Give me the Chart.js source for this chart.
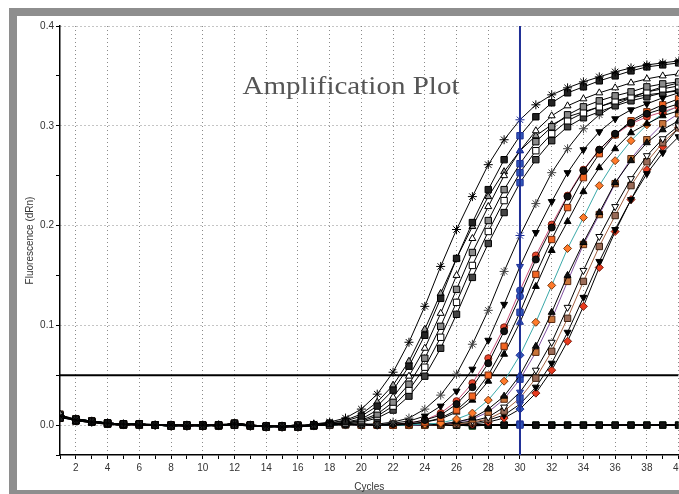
<!DOCTYPE html>
<html>
<head>
<meta charset="utf-8">
<style>
html, body { margin: 0; padding: 0; background: #fff; overflow: hidden; width: 679px; height: 494px; }
#frame { position: absolute; left: 9px; top: 8px; width: 1000px; height: 474px; border: 8px solid #8e8e8e; background: #fff; }
#wrap { position: absolute; left: 0; top: 0; width: 700px; height: 494px; }
</style>
<script src="https://cdn.jsdelivr.net/npm/chart.js@4.4.0/dist/chart.umd.min.js"></script>
</head>
<body>
<div id="frame"></div>
<div id="wrap"><canvas id="amp"></canvas></div>
<script>
// cycles and fluorescence (dRn)
var cycles = [1,2,3,4,5,6,7,8,9,10,11,12,13,14,15,16,17,18,19,20,21,22,23,24,25,26,27,28,29,30,31,32,33,34,35,36,37,38,39,40];

var wellA1 = [0.009,0.005,0.003,0.002,0.001,0.000,0.000,0.000,-0.001,0.000, 0.000,0.001,-0.001,-0.001,-0.002,-0.001,0.001,0.003,0.007,0.016, 0.031,0.053,0.083,0.119,0.159,0.196,0.229,0.261,0.286,0.306, 0.321,0.331,0.338,0.344,0.349,0.354,0.358,0.361,0.363,0.365];
var wellA2 = [0.007,0.006,0.004,0.002,0.001,0.001,0.000,-0.001,0.000,-0.001, 0.000,0.000,0.000,-0.002,-0.001,-0.002,0.000,0.002,0.004,0.009, 0.019,0.035,0.059,0.090,0.127,0.167,0.203,0.236,0.266,0.290, 0.309,0.323,0.333,0.339,0.345,0.350,0.355,0.359,0.361,0.363];
var wellA3 = [0.011,0.004,0.003,0.001,0.000,0.001,0.000,0.000,0.000,0.000, -0.001,0.002,0.000,-0.001,-0.001,0.000,-0.001,0.001,0.003,0.006, 0.015,0.028,0.049,0.077,0.112,0.150,0.187,0.219,0.250,0.275, 0.295,0.310,0.320,0.327,0.333,0.338,0.343,0.347,0.350,0.352];
var wellA4 = [0.008,0.005,0.003,0.002,0.001,0.000,0.000,0.000,-0.001,0.000, 0.000,0.001,-0.001,-0.001,-0.002,-0.001,0.000,0.001,0.002,0.005, 0.011,0.023,0.041,0.067,0.099,0.136,0.173,0.205,0.236,0.262, 0.284,0.299,0.311,0.319,0.325,0.330,0.334,0.339,0.342,0.344];
var wellA5 = [0.007,0.006,0.004,0.002,0.001,0.001,0.000,-0.001,0.000,-0.001, 0.000,0.000,0.000,-0.002,-0.001,-0.002,0.000,0.000,0.002,0.004, 0.009,0.019,0.035,0.058,0.088,0.123,0.160,0.194,0.225,0.253, 0.275,0.292,0.305,0.313,0.319,0.325,0.329,0.334,0.337,0.340];
var wellA6 = [0.010,0.004,0.003,0.001,0.000,0.001,0.000,0.000,0.000,0.000, -0.001,0.002,0.000,-0.001,-0.001,0.000,-0.001,0.001,0.001,0.003, 0.007,0.015,0.029,0.049,0.077,0.111,0.148,0.182,0.213,0.243, 0.266,0.285,0.299,0.308,0.314,0.320,0.325,0.329,0.333,0.336];
var wellA7 = [0.009,0.005,0.003,0.002,0.001,0.000,0.000,0.000,-0.001,0.000, 0.000,0.001,-0.001,-0.001,-0.002,-0.001,0.001,0.002,0.005,0.011, 0.023,0.040,0.064,0.096,0.132,0.167,0.199,0.229,0.254,0.275, 0.290,0.301,0.309,0.314,0.319,0.324,0.328,0.331,0.333,0.335];

var wellB1 = [0.008,0.006,0.004,0.002,0.001,0.001,0.000,-0.001,0.000,-0.001, 0.000,0.000,0.000,-0.002,-0.001,-0.002,0.000,0.000,0.001,0.000, 0.001,0.003,0.007,0.016,0.030,0.051,0.081,0.115,0.154,0.190, 0.222,0.253,0.277,0.297,0.311,0.321,0.328,0.334,0.339,0.343];
var wellB2 = [0.010,0.004,0.003,0.001,0.000,0.001,0.000,0.000,0.000,0.000, -0.001,0.002,0.000,-0.001,-0.001,0.000,-0.001,0.001,0.000,0.001, 0.000,0.002,0.004,0.009,0.019,0.034,0.056,0.085,0.121,0.159, 0.193,0.224,0.253,0.276,0.294,0.307,0.316,0.322,0.328,0.333];
var wellB3 = [0.009,0.005,0.003,0.002,0.001,0.000,0.000,0.000,-0.001,0.000, 0.000,0.001,-0.001,-0.001,-0.002,-0.001,0.000,0.001,0.001,0.000, 0.000,0.001,0.002,0.005,0.010,0.021,0.038,0.062,0.094,0.129, 0.166,0.198,0.229,0.255,0.276,0.292,0.303,0.312,0.317,0.322];
var wellB4 = [0.007,0.006,0.004,0.002,0.001,0.001,0.000,-0.001,0.000,-0.001, 0.000,0.000,0.000,-0.002,-0.001,-0.002,0.000,0.000,0.001,0.000, 0.000,0.000,0.001,0.003,0.007,0.015,0.029,0.050,0.079,0.113, 0.151,0.186,0.218,0.248,0.272,0.291,0.305,0.314,0.321,0.327];
var wellB5 = [0.011,0.004,0.003,0.001,0.000,0.001,0.000,0.000,0.000,0.000, -0.001,0.002,0.000,-0.001,-0.001,0.000,-0.001,0.001,0.000,0.001, 0.000,0.000,0.001,0.003,0.006,0.013,0.025,0.044,0.071,0.103, 0.139,0.175,0.204,0.234,0.258,0.277,0.293,0.302,0.310,0.315];
var wellB6 = [0.008,0.005,0.003,0.002,0.001,0.000,0.000,0.000,-0.001,0.000, 0.000,0.001,-0.001,-0.001,-0.002,-0.001,0.000,0.001,0.001,0.000, 0.000,0.001,0.002,0.005,0.012,0.024,0.042,0.067,0.098,0.135, 0.170,0.201,0.230,0.256,0.276,0.291,0.302,0.309,0.314,0.319];

var wellC0 = [0.007,0.006,0.004,0.002,0.001,0.001,0.000,-0.001,0.000,-0.001, 0.000,0.000,0.000,-0.002,-0.001,-0.002,0.000,0.000,0.001,0.000, 0.000,0.000,0.000,0.001,0.002,0.006,0.012,0.025,0.044,0.070, 0.103,0.140,0.177,0.208,0.240,0.265,0.285,0.301,0.312,0.320];
var wellC1 = [0.010,0.004,0.003,0.001,0.000,0.001,0.000,0.000,0.000,0.000, -0.001,0.002,0.000,-0.001,-0.001,0.000,-0.001,0.001,0.000,0.001, 0.000,0.000,0.001,0.000,0.001,0.003,0.007,0.016,0.029,0.050, 0.079,0.113,0.150,0.183,0.213,0.243,0.265,0.283,0.296,0.305];
var wellC2 = [0.009,0.005,0.003,0.002,0.001,0.000,0.000,0.000,-0.001,0.000, 0.000,0.001,-0.001,-0.001,-0.002,-0.001,0.000,0.001,0.001,0.000, 0.000,0.001,0.000,0.000,0.001,0.003,0.006,0.013,0.026,0.046, 0.073,0.106,0.144,0.181,0.211,0.242,0.267,0.286,0.302,0.312];
var wellC3 = [0.008,0.006,0.004,0.002,0.001,0.001,0.000,-0.001,0.000,-0.001, 0.000,0.000,0.000,-0.002,-0.001,-0.002,0.000,0.000,0.001,0.000, 0.000,0.000,0.001,0.000,0.000,0.002,0.004,0.008,0.018,0.033, 0.055,0.083,0.118,0.155,0.189,0.219,0.247,0.270,0.287,0.300];
var wellC4 = [0.011,0.004,0.003,0.001,0.000,0.001,0.000,0.000,0.000,0.000, -0.001,0.002,0.000,-0.001,-0.001,0.000,-0.001,0.001,0.000,0.001, 0.000,0.000,0.001,0.000,0.000,0.001,0.003,0.006,0.014,0.027, 0.047,0.074,0.107,0.144,0.179,0.210,0.240,0.264,0.283,0.298];
var wellC5 = [0.009,0.005,0.003,0.002,0.001,0.000,0.000,0.000,-0.001,0.000, 0.000,0.001,-0.001,-0.001,-0.002,-0.001,0.000,0.001,0.001,0.000, 0.000,0.001,0.000,0.000,0.001,0.000,0.002,0.005,0.010,0.021, 0.038,0.062,0.093,0.128,0.164,0.196,0.226,0.252,0.273,0.289];
var wellC6 = [0.007,0.006,0.004,0.002,0.001,0.001,0.000,-0.001,0.000,-0.001, 0.000,0.000,0.000,-0.002,-0.001,-0.002,0.000,0.000,0.001,0.000, 0.000,0.000,0.001,0.000,0.000,0.001,0.001,0.003,0.007,0.016, 0.032,0.055,0.084,0.119,0.158,0.194,0.226,0.256,0.279,0.298];

// no-template controls, stay flat
var ntc1 = [0.008,0.005,0.003,0.001,0.000,0.001,0.000,0.000,-0.001,0.000, 0.000,0.001,-0.001,-0.001,-0.002,-0.001,0.000,0.000,0.001,0.000, 0.000,0.000,0.000,0.001,0.000,0.000,0.000,0.000,0.000,0.000, 0.000,0.000,0.000,0.000,0.000,0.000,0.000,0.000,0.000,0.000];
var ntc2 = [0.010,0.006,0.004,0.002,0.001,0.001,0.000,-0.001,0.000,-0.001, 0.000,0.000,0.000,-0.002,-0.001,-0.002,0.000,0.001,0.001,0.001, 0.001,0.000,0.000,0.000,0.001,0.000,-0.001,0.000,0.000,0.001, 0.000,0.000,0.000,0.000,0.000,0.000,0.000,0.000,0.000,0.000];

var threshold = 0.05;
var cursorCycle = 30;
var yTicksMin = -0.03, yTicksMax = 0.4;
var xMin = 1, xMax = 40;

var wells = [wellA1, wellA2, wellA3, wellA4, wellA5, wellA6, wellA7,
             wellB1, wellB2, wellB3, wellB4, wellB5, wellB6,
             wellC0, wellC1, wellC2, wellC3, wellC4, wellC5, wellC6,
             ntc1, ntc2];

// marker look for each well
var looks = [
    {shape: 'star', fill: '#000', edge: '#000', line: '#000', r: 4.5},
    {shape: 'rect', fill: '#222', edge: '#000', line: '#000', r: 4.5},
    {shape: 'triangle', fill: '#fff', edge: '#000', line: '#000', r: 4},
    {shape: 'rect', fill: '#8a8a8a', edge: '#000', line: '#000', r: 4.5},
    {shape: 'rect', fill: '#fff', edge: '#000', line: '#000', r: 4.5},
    {shape: 'rect', fill: '#444', edge: '#000', line: '#000', r: 4.5},
    {shape: 'triangle', fill: '#9a9a9a', edge: '#000', line: '#000', r: 4},
    {shape: 'star', fill: '#555', edge: '#444', line: '#000', r: 4.5},
    {shape: 'triangle', fill: '#000', edge: '#000', line: '#000', r: 4, rot: 180},
    {shape: 'circle', fill: '#111', edge: '#000', line: '#000', r: 3.5},
    {shape: 'rect', fill: '#f26522', edge: '#6a2a10', line: '#000', r: 4.5},
    {shape: 'triangle', fill: '#000', edge: '#000', line: '#000', r: 4},
    {shape: 'circle', fill: '#e8452c', edge: '#7a2010', line: '#c8507a', r: 3.5},
    {shape: 'rectRot', fill: '#ff7a2a', edge: '#7a3a10', line: '#3aa8a8', r: 4},
    {shape: 'triangle', fill: '#111', edge: '#000', line: '#000', r: 4},
    {shape: 'rect', fill: '#c8743a', edge: '#5a2a10', line: '#8050a0', r: 4.5},
    {shape: 'triangle', fill: '#fff', edge: '#000', line: '#000', r: 4, rot: 180},
    {shape: 'rect', fill: '#9a6b58', edge: '#3a2010', line: '#a06040', r: 4.5},
    {shape: 'triangle', fill: '#000', edge: '#000', line: '#000', r: 4, rot: 180},
    {shape: 'rectRot', fill: '#e83a1e', edge: '#7a1a0a', line: '#000', r: 4},
    {shape: 'rect', fill: '#111', edge: '#000', line: '#000', r: 4.5, width: 2},
    {shape: 'rect', fill: '#2f8a3a', edge: '#0a3a10', line: '#000', r: 4.5}
];

var datasets = [];

datasets.push({
    data: [{x: cursorCycle, y: yTicksMin}, {x: cursorCycle, y: yTicksMax}],
    borderColor: '#1f2f96', borderWidth: 2, pointRadius: 0, order: -1
});
datasets.push({
    data: [{x: xMin, y: threshold}, {x: xMax, y: threshold}],
    borderColor: '#000', borderWidth: 2, pointRadius: 0, order: 1
});

wells.forEach(function (vals, i) {
    var look = looks[i];
    datasets.push({
        data: cycles.map(function (c, j) { return {x: c, y: vals[j]}; }),
        borderColor: look.line,
        borderWidth: look.width || 1,
        pointStyle: look.shape,
        pointRotation: look.rot || 0,
        pointRadius: look.r,
        pointBorderWidth: 1,
        pointBackgroundColor: function (ctx) {
            return (ctx.raw && ctx.raw.x === cursorCycle) ? '#3058b8' : look.fill;
        },
        pointBorderColor: function (ctx) {
            return (ctx.raw && ctx.raw.x === cursorCycle) ? '#1f2f96' : look.edge;
        },
        tension: 0,
        order: 0
    });
});

var titlePlugin = {
    id: 'plotTitle',
    afterDraw: function (chart) {
        var ctx = chart.ctx, area = chart.chartArea;
        var text = 'Amplification Plot';
        ctx.save();
        ctx.font = '26px "Liberation Serif", "Times New Roman", serif';
        ctx.fillStyle = '#555';
        ctx.textAlign = 'center';
        ctx.textBaseline = 'alphabetic';
        var w = ctx.measureText(text).width;
        ctx.translate(area.left + 291, area.top + 68);
        ctx.scale(217 / w, 1);
        ctx.fillText(text, 0, 0);
        ctx.restore();
    }
};

Chart.defaults.font.family = '"Liberation Sans", Arial, sans-serif';
Chart.defaults.color = '#333';

var myChart = new Chart(document.getElementById('amp'), {
    type: 'line',
    data: {datasets: datasets},
    options: {
        responsive: true,
        maintainAspectRatio: false,
        animation: false,
        layout: {padding: {left: 0, top: 26, right: 21.4, bottom: 0}},
        plugins: {
            legend: {display: false},
            tooltip: {enabled: false}
        },
        scales: {
            x: {
                type: 'linear',
                min: xMin,
                max: xMax,
                afterFit: function (s) { s.height = 39; },
                ticks: {
                    stepSize: 1,
                    autoSkip: false,
                    maxRotation: 0,
                    padding: 3,
                    font: {size: 10},
                    callback: function (v) { return v % 2 === 0 ? String(v) : ''; }
                },
                grid: {
                    color: function (ctx) {
                        return (ctx.tick && ctx.tick.value % 2 === 0) ? '#8a8a8a' : 'rgba(0,0,0,0)';
                    },
                    tickColor: '#000',
                    tickLength: 4,
                    lineWidth: 1
                },
                border: {display: true, color: '#000', width: 1.5, dash: [1, 3]},
                title: {display: true, text: 'Cycles', font: {size: 10}, padding: {top: 0, bottom: 1}}
            },
            y: {
                min: yTicksMin,
                max: yTicksMax,
                afterFit: function (s) { s.width = 60; },
                ticks: {
                    stepSize: 0.05,
                    padding: 2,
                    font: {size: 10},
                    callback: function (v) {
                        var t = Math.round(v * 10);
                        return (v > -0.001 && Math.abs(v * 10 - t) < 1e-6) ? (t / 10).toFixed(1) : '';
                    }
                },
                grid: {
                    color: function (ctx) {
                        var v = ctx.tick ? ctx.tick.value : -1;
                        return (v > -0.001 && Math.abs(v * 10 - Math.round(v * 10)) < 1e-6) ? '#8a8a8a' : 'rgba(0,0,0,0)';
                    },
                    tickColor: '#000',
                    tickLength: 4,
                    lineWidth: 1
                },
                border: {display: true, color: '#000', width: 1.5, dash: [1, 3]},
                title: {display: true, text: 'Fluorescence (dRn)', font: {size: 10}, padding: {top: 24, bottom: 0}}
            }
        }
    },
    plugins: [titlePlugin]
});
</script>
</body>
</html>
